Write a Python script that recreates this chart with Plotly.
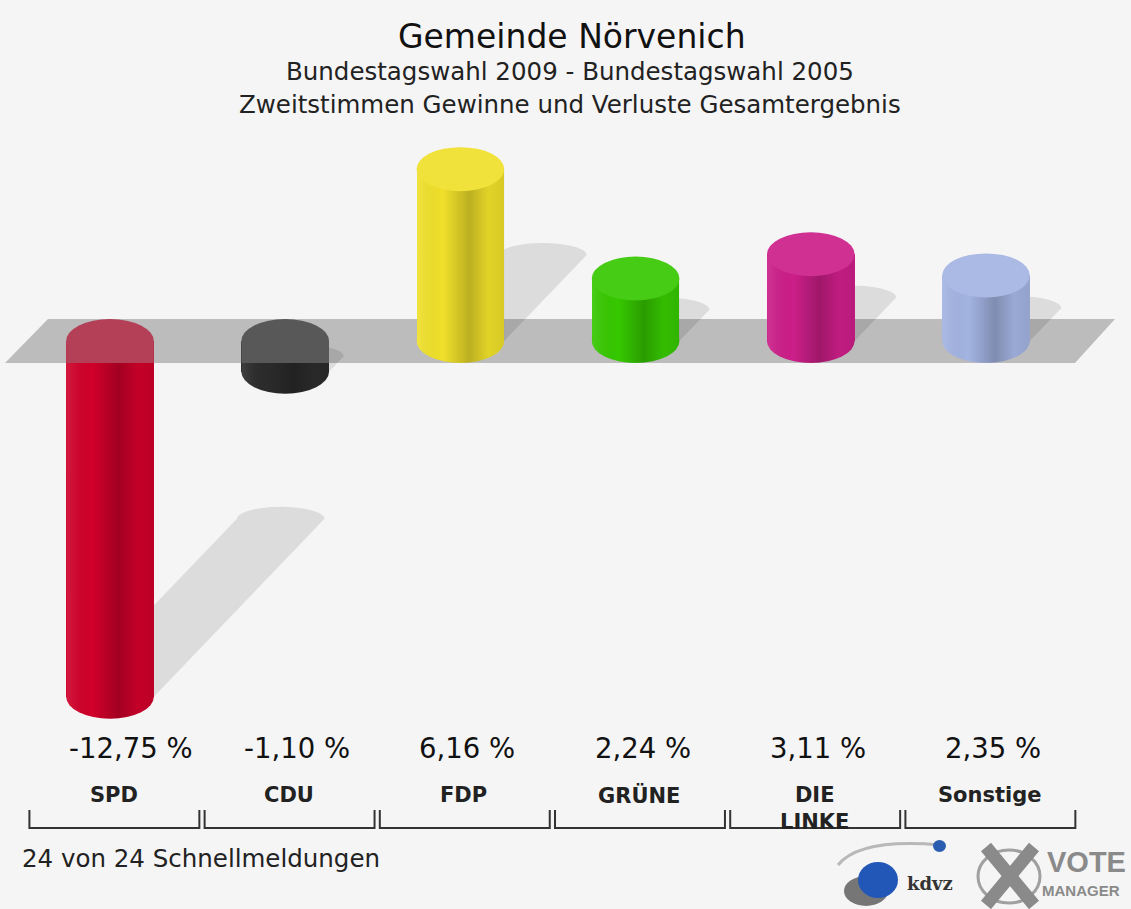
import numpy as np
import plotly.graph_objects as go

# ---------------- data ----------------
parties = ["SPD", "CDU", "FDP", "GRÜNE", "DIE LINKE", "Sonstige"]
party_labels = ["SPD", "CDU", "FDP", "GRÜNE", "DIE<br>LINKE", "Sonstige"]
changes = [-12.75, -1.10, 6.16, 2.24, 3.11, 2.35]
party_colors = ["#d0002a", "#2b2b2b", "#f0e02a", "#36c800", "#cc1e88", "#a3b4e2"]
title_text = "Gemeinde Nörvenich"
subtitle_1 = "Bundestagswahl 2009 - Bundestagswahl 2005"
subtitle_2 = "Zweitstimmen Gewinne und Verluste Gesamtergebnis"
footnote = "24 von 24 Schnellmeldungen"

# ---------------- geometry ----------------
W, H = 1131, 909
ZERO_PX = 341.0
PX_PER_UNIT = 27.9
CAT_PX0 = 110.0
CAT_STEP = 175.2

x_range = [-CAT_PX0 / CAT_STEP, (W - CAT_PX0) / CAT_STEP]
y_range = [-(H - ZERO_PX) / PX_PER_UNIT, ZERO_PX / PX_PER_UNIT]

BAR_W = 0.5
RX = BAR_W / 2
RY = 22.0 / PX_PER_UNIT          # cap ellipse half-height in value units
SH_RY = 12.0 / PX_PER_UNIT       # shadow cap half-height
SH_DX = 0.48 * PX_PER_UNIT / CAT_STEP   # shadow horizontal shift per unit
SH_DY = 0.5                      # shadow vertical rise per unit


def px_x(px):
    return (px - CAT_PX0) / CAT_STEP


def py(px):
    return 1 - px / H


def hex_rgb(h):
    h = h.lstrip("#")
    return tuple(int(h[i:i + 2], 16) for i in (0, 2, 4))


def mix(c, other, t):
    a = hex_rgb(c)
    return "rgb(%d,%d,%d)" % tuple(round(a[k] * (1 - t) + other[k] * t) for k in range(3))


def arc(cx, cy, rx, ry, t0, t1, n=40):
    t = np.linspace(t0, t1, n)
    return list(cx + rx * np.cos(t)), list(cy + ry * np.sin(t))


def path_from(xs, ys):
    s = "M %.5f,%.5f " % (xs[0], ys[0])
    s += " ".join("L %.5f,%.5f" % (a, b) for a, b in zip(xs[1:], ys[1:]))
    return s + " Z"


shapes = []

# grey zero band (parallelogram)
band_x = [px_x(5), px_x(48), px_x(1115), px_x(1075)]
band_y = [-RY, RY, RY, -RY]
shapes.append(dict(type="path", xref="x", yref="y", layer="below",
                   path=path_from(band_x, band_y),
                   fillcolor="#bcbcbc", line=dict(width=0)))

# shadows
for i, v in enumerate(changes):
    y0 = 0 if v > 0 else v
    h = abs(v)
    dx, dy = SH_DX * h, SH_DY * h
    tx, ty = arc(i + dx, y0 + dy, RX, SH_RY, np.pi, 0)
    bx, by = arc(i, y0, RX, SH_RY, 0, -np.pi)
    xs = [i - RX] + tx + [i + RX] + bx
    ys = [y0] + ty + [y0] + by
    shapes.append(dict(type="path", xref="x", yref="y", layer="below",
                       path=path_from(xs, ys),
                       fillcolor="rgba(0,0,0,0.10)", line=dict(width=0)))

# base ellipses (end of cylinder away from cap)
for i, v in enumerate(changes):
    yb = 0 if v > 0 else v
    shapes.append(dict(type="circle", xref="x", yref="y", layer="below",
                       x0=i - RX, x1=i + RX, y0=yb - RY, y1=yb + RY,
                       fillcolor=party_colors[i], line=dict(width=0)))

# caps / band overlay on negative bars
for i, v in enumerate(changes):
    if v > 0:
        shapes.append(dict(type="circle", xref="x", yref="y", layer="above",
                           x0=i - RX, x1=i + RX, y0=v - RY, y1=v + RY,
                           fillcolor=mix(party_colors[i], (255, 255, 255), 0.08),
                           line=dict(width=0)))
    else:
        muted = mix(party_colors[i], (145, 145, 145), 0.44)
        shapes.append(dict(type="circle", xref="x", yref="y", layer="above",
                           x0=i - RX, x1=i + RX, y0=-RY, y1=RY,
                           fillcolor=muted, line=dict(width=0)))
        shapes.append(dict(type="rect", xref="x", yref="y", layer="above",
                           x0=i - RX, x1=i + RX, y0=-RY, y1=0,
                           fillcolor=muted, line=dict(width=0)))

# category brackets
for i in range(len(parties)):
    xl, xr_ = i + 0.025 - 0.485, i + 0.025 + 0.485
    shapes.append(dict(type="path", xref="x", yref="paper", layer="above",
                       path="M %.4f,%.4f L %.4f,%.4f L %.4f,%.4f L %.4f,%.4f" % (
                           xl, py(810), xl, py(828), xr_, py(828), xr_, py(810)),
                       line=dict(color="#333333", width=2)))

# logo decorations (kdvz / VOTE MANAGER)
shapes += [
    dict(type="path", xref="paper", yref="paper", layer="above",
         path="M %f,%f Q %f,%f %f,%f" % (838 / W, py(865), 860 / W, py(838), 940 / W, py(845)),
         line=dict(color="#b8b8b8", width=3)),
    dict(type="circle", xref="paper", yref="paper", layer="above",
         x0=933 / W, x1=946 / W, y0=py(852), y1=py(840),
         fillcolor="#2a5db0", line=dict(width=0)),
    dict(type="circle", xref="paper", yref="paper", layer="above",
         x0=844 / W, x1=888 / W, y0=py(906), y1=py(876),
         fillcolor="#222222", opacity=0.6, line=dict(width=0)),
    dict(type="circle", xref="paper", yref="paper", layer="above",
         x0=858 / W, x1=898 / W, y0=py(898), y1=py(862),
         fillcolor="#2257b8", line=dict(width=0)),
    dict(type="circle", xref="paper", yref="paper", layer="above",
         x0=978 / W, x1=1040 / W, y0=py(903), y1=py(850),
         fillcolor="rgba(0,0,0,0)", line=dict(color="#a0a0a0", width=3)),
    dict(type="line", xref="paper", yref="paper", layer="above",
         x0=986 / W, x1=1034 / W, y0=py(847), y1=py(905),
         line=dict(color="#8a8a8a", width=13)),
    dict(type="line", xref="paper", yref="paper", layer="above",
         x0=1034 / W, x1=986 / W, y0=py(847), y1=py(905),
         line=dict(color="#8a8a8a", width=13)),
]

fig = go.Figure()

# cylinder bodies
fig.add_trace(go.Bar(
    x=list(range(len(parties))), y=changes, base=0, width=BAR_W,
    marker=dict(color=party_colors, line=dict(width=0)),
    hoverinfo="skip", showlegend=False,
))

# cylinder shading overlays
for i, v in enumerate(changes):
    top = v if v > 0 else 0
    yb = 0 if v > 0 else v
    bx, by = arc(i, yb, RX, RY, np.pi, 2 * np.pi)
    xs = [i - RX] + bx + [i + RX, i - RX]
    ys = [top] + by + [top, top]
    fig.add_trace(go.Scatter(
        x=xs, y=ys, mode="lines", fill="toself", line=dict(width=0),
        fillgradient=dict(type="horizontal", colorscale=[
            [0.0, "rgba(255,255,255,0.10)"],
            [0.3, "rgba(0,0,0,0.0)"],
            [0.6, "rgba(0,0,0,0.22)"],
            [0.82, "rgba(0,0,0,0.06)"],
            [1.0, "rgba(0,0,0,0.10)"],
        ]),
        hoverinfo="skip", showlegend=False,
    ))

FONT = "DejaVu Sans"


def ann(text, x, y, size, color="#222222", family=FONT, xref="paper",
        xanchor="center", yanchor="middle", weight="normal"):
    return dict(text=text, x=x, y=y, xref=xref, yref="paper", showarrow=False,
                xanchor=xanchor, yanchor=yanchor,
                font=dict(family=family, size=size, color=color, weight=weight))


annotations = [
    ann(title_text, 0.506, py(36), 33, "#111111"),
    ann(subtitle_1, 0.504, py(72), 24.5),
    ann(subtitle_2, 0.504, py(105), 24.5),
    ann(footnote, 20 / W, py(858), 24.5, xanchor="left"),
    ann("kdvz", 905 / W, py(883), 18, "#333333", family="DejaVu Serif",
        xanchor="left", weight="bold"),
    ann("VOTE", 1045 / W, py(862), 29, "#8a8a8a", family="Liberation Sans",
        xanchor="left", weight="bold"),
    ann("MANAGER", 1040 / W, py(890), 15, "#8a8a8a", family="Liberation Sans",
        xanchor="left", weight="bold"),
]
for i, v in enumerate(changes):
    label = ("%.2f" % v).replace(".", ",") + " %"
    annotations.append(ann(label, i - 0.245, py(748), 27.5, "#111111",
                           xref="x", xanchor="left"))
    annotations.append(ann("<b>%s</b>" % party_labels[i], i + 0.02, py(781), 21,
                           xref="x", yanchor="top"))

fig.update_layout(
    width=W, height=H, margin=dict(l=0, r=0, t=0, b=0),
    paper_bgcolor="#f5f5f5", plot_bgcolor="#f5f5f5",
    xaxis=dict(range=x_range, visible=False, fixedrange=True),
    yaxis=dict(range=y_range, visible=False, fixedrange=True),
    shapes=shapes, annotations=annotations, showlegend=False,
    bargap=0,
)

fig.write_html("out.html", config={"displayModeBar": False},
               post_script="document.body.style.margin='0';document.body.style.overflow='hidden';")
